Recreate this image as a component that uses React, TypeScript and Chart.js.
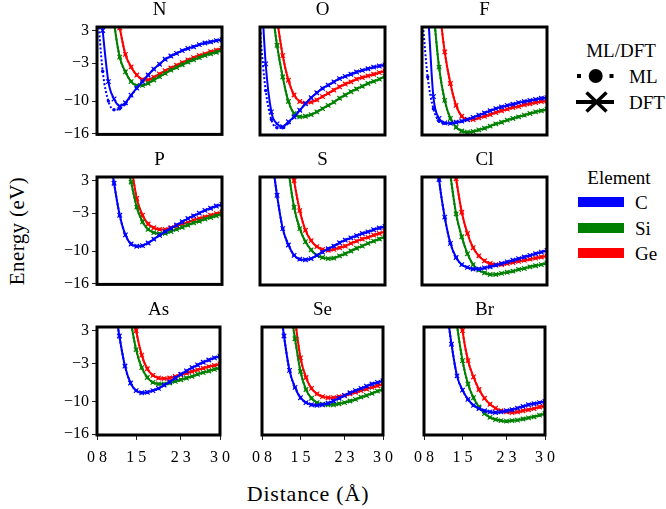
import React, { useEffect, useRef } from "react";
import { Chart, registerables } from "chart.js";

Chart.register(...registerables);

// ---------- data ----------
const distances = [0.8, 0.9, 1.0, 1.1, 1.2, 1.3, 1.4, 1.5, 1.6, 1.7, 1.8, 1.9, 2.0, 2.1, 2.2, 2.3, 2.4, 2.5, 2.6, 2.7, 2.8, 2.9, 3.0];

const xTickValues = [0.8, 1.5, 2.3, 3.0];
const xTickLabels = ["0 8", "1 5", "2 3", "3 0"];
const yTickValues = [3, -3, -10, -16];

const elementNames = ["C", "Si", "Ge"];
const elementColors = ["#0000ff", "#008000", "#ff0000"];
const panelTitles = ["N", "O", "F", "P", "S", "Cl", "As", "Se", "Br"];

// N
const N_C = [14, 3.0, -6.4, -9.6, -10.9, -10.3, -8.9, -7.6, -6.4, -5.2, -4.1, -3.2, -2.3, -1.7, -1.2, -0.7, -0.3, 0.0, 0.4, 0.7, 0.9, 1.15, 1.3];
const N_C_ML = [8, -4.5, -10.0, -11.6, -11.4, -10.5, -9.0, -7.6, -6.4, -5.2, -4.1, -3.2, -2.3, -1.7, -1.2, -0.7, -0.3, 0.0, 0.4, 0.7, 0.9, 1.15, 1.3];
const N_Si = [null, null, 14, 4.5, -1.9, -4.6, -6.4, -7.1, -7.1, -6.7, -6.1, -5.5, -4.9, -4.3, -3.8, -3.3, -2.8, -2.4, -2.0, -1.6, -1.3, -1.0, -0.6];
const N_Ge = [null, null, null, 9, 3.5, -1.4, -3.7, -5.2, -6.0, -6.1, -5.6, -5.0, -4.4, -3.9, -3.4, -2.9, -2.4, -2.0, -1.6, -1.3, -0.9, -0.6, -0.3];
// O
const O_C = [15, -3.1, -11.9, -14.1, -14.6, -13.7, -12.8, -11.6, -10.4, -9.3, -8.4, -7.6, -7.0, -6.4, -5.8, -5.4, -5.0, -4.6, -4.3, -4.0, -3.7, -3.5, -3.3];
const O_C_ML = [2.5, -8.0, -13.3, -14.8, -14.8, -13.9, -12.8, -11.6, -10.4, -9.3, -8.4, -7.6, -7.0, -6.4, -5.8, -5.4, -5.0, -4.6, -4.3, -4.0, -3.7, -3.5, -3.3];
const O_Si = [null, null, 8, 0.3, -5.5, -10.0, -12.2, -12.8, -12.7, -12.4, -11.9, -11.3, -10.7, -10.1, -9.4, -8.8, -8.2, -7.7, -7.2, -6.7, -6.3, -5.9, -5.4];
const O_Ge = [null, null, null, 5, -1.6, -6.1, -8.8, -10.0, -10.3, -10.1, -9.7, -9.1, -8.5, -7.9, -7.3, -6.8, -6.4, -5.9, -5.6, -5.3, -5.0, -4.7, -4.4];
// F
const F_C = [18, 7, -9.1, -13.1, -13.9, -14.0, -13.8, -13.6, -13.3, -12.9, -12.5, -12.1, -11.7, -11.3, -11.0, -10.7, -10.5, -10.2, -10.0, -9.8, -9.6, -9.4, -9.3];
const F_C_ML = [6, -5.5, -11.3, -13.6, -14.0, -14.0, -13.8, -13.6, -13.3, -12.9, -12.5, -12.1, -11.7, -11.3, -11.0, -10.7, -10.5, -10.2, -10.0, -9.8, -9.6, -9.4, -9.3];
const F_Si = [null, 20, 7, -3.7, -9.8, -13.1, -14.7, -15.4, -15.6, -15.5, -15.2, -14.9, -14.5, -14.1, -13.8, -13.4, -13.1, -12.8, -12.5, -12.2, -11.9, -11.7, -11.4];
const F_Ge = [null, null, 20, 8, -0.9, -6.7, -10.7, -12.7, -13.3, -13.3, -13.0, -12.7, -12.4, -12.0, -11.7, -11.4, -11.1, -10.9, -10.6, -10.4, -10.2, -10.0, -9.9];
// P
const P_C = [null, null, 9, 2.5, -3.4, -7.0, -8.7, -9.1, -9.0, -8.5, -7.8, -7.1, -6.4, -5.8, -5.2, -4.6, -4.0, -3.5, -3.0, -2.5, -2.1, -1.7, -1.4];
const P_Si = [null, null, null, null, null, 8, 2.7, -1.9, -4.6, -6.0, -6.6, -6.8, -6.7, -6.4, -6.0, -5.6, -5.2, -4.8, -4.5, -4.1, -3.8, -3.5, -3.2];
const P_Ge = [null, null, null, null, null, 14, 6, -0.3, -3.4, -5.0, -5.7, -6.0, -6.0, -5.7, -5.4, -5.0, -4.7, -4.3, -4.0, -3.7, -3.4, -3.1, -2.8];
// S
const S_C = [null, null, 8, 0.3, -5.8, -8.8, -10.7, -11.4, -11.5, -11.3, -10.7, -10.1, -9.5, -9.0, -8.4, -7.9, -7.5, -7.1, -6.7, -6.4, -6.0, -5.7, -5.4];
const S_Si = [null, null, null, null, 14, 5, -1.9, -5.8, -8.2, -9.7, -10.7, -11.1, -11.3, -11.2, -10.8, -10.4, -9.9, -9.4, -9.0, -8.5, -8.1, -7.7, -7.3];
const S_Ge = [null, null, null, null, null, 10, 3.0, -2.5, -6.1, -8.0, -9.1, -9.6, -9.8, -9.6, -9.3, -9.0, -8.5, -8.1, -7.7, -7.4, -7.0, -6.7, -6.3];
// Cl
const Cl_C = [null, null, 14, 3.2, -3.7, -8.5, -11.1, -12.4, -12.9, -13.2, -13.2, -13.0, -12.8, -12.5, -12.2, -11.9, -11.6, -11.3, -11.0, -10.7, -10.4, -10.1, -9.8];
const Cl_Si = [null, null, null, null, 12, 4, -3.1, -7.3, -10.4, -12.4, -13.4, -13.9, -14.2, -14.2, -14.0, -13.8, -13.6, -13.3, -13.1, -12.8, -12.6, -12.4, -12.1];
const Cl_Ge = [null, null, null, null, null, 10, 3.3, -2.8, -6.7, -9.3, -10.8, -11.7, -12.2, -12.4, -12.4, -12.2, -12.0, -11.8, -11.6, -11.4, -11.2, -11.0, -10.8];
// As
const As_C = [null, null, null, 9, 2.0, -3.5, -6.6, -8.0, -8.4, -8.3, -8.0, -7.6, -7.0, -6.4, -5.7, -5.0, -4.4, -3.8, -3.3, -2.8, -2.4, -2.0, -1.7];
const As_Si = [null, null, null, null, null, 12, 5, -0.5, -3.8, -5.6, -6.5, -6.8, -6.8, -6.6, -6.3, -6.0, -5.7, -5.4, -5.0, -4.7, -4.4, -4.1, -3.8];
const As_Ge = [null, null, null, null, null, null, 10, 3.0, -1.5, -4.0, -5.2, -5.7, -5.8, -5.7, -5.4, -5.1, -4.8, -4.5, -4.2, -3.9, -3.6, -3.4, -3.1];
// Se
const Se_C = [null, null, null, 10, 2.0, -4.3, -7.4, -9.3, -10.2, -10.6, -10.7, -10.6, -10.3, -9.9, -9.4, -8.9, -8.4, -8.0, -7.6, -7.2, -6.8, -6.5, -6.2];
const Se_Si = [null, null, null, null, null, 8, 1.5, -4.5, -7.8, -9.4, -10.2, -10.5, -10.6, -10.6, -10.4, -10.2, -9.9, -9.6, -9.2, -8.9, -8.5, -8.1, -7.8];
const Se_Ge = [null, null, null, null, null, 12, 5.0, -2.0, -5.6, -7.6, -8.6, -9.1, -9.3, -9.3, -9.1, -8.9, -8.6, -8.3, -8.0, -7.7, -7.4, -7.1, -6.8];
// Br
const Br_C = [null, null, null, null, 8, 0.5, -5.3, -7.9, -9.6, -10.7, -11.3, -11.7, -11.9, -12.0, -11.9, -11.7, -11.5, -11.2, -10.9, -10.6, -10.4, -10.2, -10.0];
const Br_Si = [null, null, null, null, null, 12, 4.0, -2.5, -6.8, -9.3, -11.0, -12.2, -12.9, -13.3, -13.5, -13.6, -13.5, -13.4, -13.2, -13.0, -12.8, -12.5, -12.2];
const Br_Ge = [null, null, null, null, null, null, 12, 3.0, -2.5, -5.5, -7.8, -9.4, -10.5, -11.2, -11.7, -11.9, -12.0, -11.9, -11.7, -11.5, -11.3, -11.0, -10.8];

// DFT and ML series per panel (C, Si, Ge); ML coincides with DFT where the curves overlap
const dftSeries = [
  [N_C, N_Si, N_Ge], [O_C, O_Si, O_Ge], [F_C, F_Si, F_Ge],
  [P_C, P_Si, P_Ge], [S_C, S_Si, S_Ge], [Cl_C, Cl_Si, Cl_Ge],
  [As_C, As_Si, As_Ge], [Se_C, Se_Si, Se_Ge], [Br_C, Br_Si, Br_Ge],
];
const mlSeries = [
  [N_C_ML, N_Si, N_Ge], [O_C_ML, O_Si, O_Ge], [F_C_ML, F_Si, F_Ge],
  [P_C, P_Si, P_Ge], [S_C, S_Si, S_Ge], [Cl_C, Cl_Si, Cl_Ge],
  [As_C, As_Si, As_Ge], [Se_C, Se_Si, Se_Ge], [Br_C, Br_Si, Br_Ge],
];

// ---------- layout ----------
const FONT = "'Liberation Serif', 'Times New Roman', serif";
const X_MIN = 0.8, X_MAX = 3.0;
const Y_MIN = -16.13, Y_MAX = 3.65;
const GRID_LEFT = 97, COL_STEP = 162.5, PLOT_W = 125;
const GRID_TOP = 26.5, ROW_STEP = 150, PLOT_H = 108.5;
const Y_AXIS_W = 60, X_AXIS_H = 36, TITLE_H = 30, SIDE_PAD = 16, BOTTOM_PAD = 12;

const framePlugin = {
  id: "frame",
  afterDatasetsDraw(chart: any) {
    const { ctx, chartArea: a } = chart;
    ctx.save();
    ctx.strokeStyle = "#000";
    ctx.lineWidth = 3;
    ctx.strokeRect(a.left, a.top, a.right - a.left, a.bottom - a.top);
    ctx.restore();
  },
};

const fmtY = (v: number) => (v < 0 ? "\u2212" + Math.abs(v) : String(v));

function Panel({ index }: { index: number }) {
  const ref = useRef<HTMLCanvasElement | null>(null);
  const row = Math.floor(index / 3);
  const col = index % 3;
  const showY = col === 0;
  const showX = row === 2;
  const padL = showY ? Y_AXIS_W : SIDE_PAD;
  const padB = showX ? X_AXIS_H : BOTTOM_PAD;
  const w = padL + PLOT_W + SIDE_PAD;
  const h = TITLE_H + PLOT_H + padB;
  const left = GRID_LEFT + col * COL_STEP - padL;
  const top = GRID_TOP + row * ROW_STEP - TITLE_H;

  useEffect(() => {
    const datasets: any[] = [];
    for (let e = 0; e < 3; e++) {
      const color = elementColors[e];
      datasets.push({
        label: elementNames[e] + " ML",
        data: distances.map((x, k) => ({ x, y: mlSeries[index][e][k] })),
        borderColor: color,
        backgroundColor: color,
        borderWidth: 2,
        borderDash: [2, 2],
        pointStyle: "circle",
        pointRadius: 1.7,
        pointBorderWidth: 0,
        cubicInterpolationMode: "monotone",
      });
      datasets.push({
        label: elementNames[e] + " DFT",
        data: distances.map((x, k) => ({ x, y: dftSeries[index][e][k] })),
        borderColor: color,
        backgroundColor: color,
        borderWidth: 2,
        pointStyle: "crossRot",
        pointRadius: 3.2,
        pointBorderWidth: 1.2,
        cubicInterpolationMode: "monotone",
      });
    }
    const chart = new Chart(ref.current as HTMLCanvasElement, {
      type: "line",
      data: { datasets },
      options: {
        animation: false,
        responsive: false,
        events: [],
        layout: {
          padding: {
            left: showY ? 0 : padL,
            right: SIDE_PAD,
            top: 0,
            bottom: showX ? 0 : padB,
          },
        },
        plugins: {
          legend: { display: false },
          tooltip: { enabled: false },
          title: {
            display: true,
            text: panelTitles[index],
            fullSize: false,
            color: "#000",
            font: { family: FONT, size: 19, weight: "normal", lineHeight: 1.2 },
            padding: { top: 2, bottom: 5.2 },
          },
        },
        scales: {
          x: {
            type: "linear",
            min: X_MIN,
            max: X_MAX,
            display: showX,
            afterBuildTicks: (s: any) => {
              s.ticks = xTickValues.map((v) => ({ value: v }));
            },
            afterFit: (s: any) => {
              s.height = showX ? X_AXIS_H : 0;
            },
            border: { display: false },
            grid: { drawOnChartArea: false, drawTicks: true, tickLength: 5, color: "#222", lineWidth: 1 },
            ticks: {
              autoSkip: false,
              maxRotation: 0,
              padding: 8,
              color: "#000",
              font: { family: FONT, size: 16 },
              callback: (v: any) => {
                const i = xTickValues.findIndex((t) => Math.abs(t - v) < 1e-6);
                return i >= 0 ? xTickLabels[i] : "";
              },
            },
          },
          y: {
            type: "linear",
            min: Y_MIN,
            max: Y_MAX,
            display: showY,
            afterBuildTicks: (s: any) => {
              s.ticks = yTickValues.map((v) => ({ value: v }));
            },
            afterFit: (s: any) => {
              s.width = showY ? Y_AXIS_W : 0;
            },
            border: { display: false },
            grid: { drawOnChartArea: false, drawTicks: true, tickLength: 5, color: "#222", lineWidth: 1 },
            ticks: {
              autoSkip: false,
              padding: 3,
              color: "#000",
              font: { family: FONT, size: 16 },
              callback: (v: any) => fmtY(Number(v)),
            },
          },
        },
      } as any,
      plugins: [framePlugin],
    });
    return () => chart.destroy();
  }, [index]);

  return (
    <canvas
      ref={ref}
      width={w}
      height={h}
      style={{ position: "absolute", left, top, width: w, height: h }}
    />
  );
}

const textStyle: React.CSSProperties = {
  position: "absolute",
  fontFamily: FONT,
  color: "#000",
  whiteSpace: "nowrap",
  lineHeight: 1,
};

export default function App() {
  return (
    <div
      style={{
        position: "fixed",
        left: 0,
        top: 0,
        width: 666,
        height: 509,
        background: "#fff",
        overflow: "hidden",
      }}
    >
      {panelTitles.map((_, i) => (
        <Panel key={i} index={i} />
      ))}

      {/* axis labels */}
      <div
        style={{
          ...textStyle,
          left: 17,
          top: 231,
          fontSize: 21,
          letterSpacing: 0.4,
          transform: "translate(-50%, -50%) rotate(-90deg)",
        }}
      >
        Energy (eV)
      </div>
      <div
        style={{
          ...textStyle,
          left: 308,
          top: 494,
          fontSize: 22,
          letterSpacing: 0.8,
          transform: "translate(-50%, -50%)",
        }}
      >
        Distance (Å)
      </div>

      {/* ML/DFT legend */}
      <div style={{ ...textStyle, left: 621, top: 50, fontSize: 19, transform: "translate(-50%, -50%)" }}>ML/DFT</div>
      <svg style={{ position: "absolute", left: 570, top: 62, overflow: "visible" }} width={50} height={52}>
        <rect x={7} y={12} width={4} height={4} fill="#000" />
        <rect x={39.5} y={12} width={4} height={4} fill="#000" />
        <circle cx={25.7} cy={14} r={7} fill="#000" />
        <line x1={6} y1={40} x2={44} y2={40} stroke="#000" strokeWidth={4} />
        <line x1={16.5} y1={30.5} x2={36.5} y2={49.5} stroke="#000" strokeWidth={3.5} />
        <line x1={16.5} y1={49.5} x2={36.5} y2={30.5} stroke="#000" strokeWidth={3.5} />
      </svg>
      <div style={{ ...textStyle, left: 629, top: 76, fontSize: 19, transform: "translateY(-50%)" }}>ML</div>
      <div style={{ ...textStyle, left: 629, top: 102, fontSize: 19, transform: "translateY(-50%)" }}>DFT</div>

      {/* Element legend */}
      <div style={{ ...textStyle, left: 619, top: 177, fontSize: 19, transform: "translate(-50%, -50%)" }}>Element</div>
      {elementNames.map((name, i) => {
        const cy = [202, 228, 253][i];
        return (
          <React.Fragment key={name}>
            <div
              style={{
                position: "absolute",
                left: 578,
                top: cy - 5,
                width: 46,
                height: 10,
                background: elementColors[i],
              }}
            />
            <div style={{ ...textStyle, left: 635, top: cy, fontSize: 19, transform: "translateY(-50%)" }}>{name}</div>
          </React.Fragment>
        );
      })}
    </div>
  );
}
